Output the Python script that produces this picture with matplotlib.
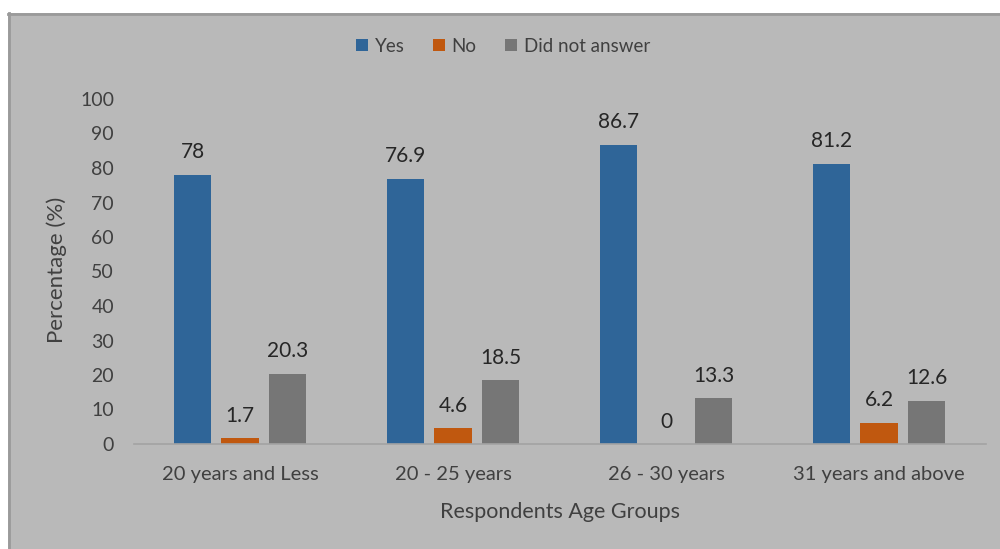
import numpy as np
import matplotlib
matplotlib.use("Agg")
import matplotlib.pyplot as plt
from matplotlib.patches import Rectangle

# survey responses by age group (%)
groups = ["20 years and Less", "20 - 25 years", "26 - 30 years", "31 years and above"]
series = ["Yes", "No", "Did not answer"]
yes_vals = [78, 76.9, 86.7, 81.2]
no_vals = [1.7, 4.6, 0, 6.2]
dna_vals = [20.3, 18.5, 13.3, 12.6]
yticks = [0, 10, 20, 30, 40, 50, 60, 70, 80, 90, 100]

colors = ["#2f6598", "#c0580f", "#767676"]
bg = "#b9b9b9"
txt = "#262626"
tick_col = "#404040"

plt.rcParams["font.family"] = ["Lato", "DejaVu Sans"]

fig = plt.figure(figsize=(10, 5.49), dpi=100)
fig.patch.set_facecolor("white")

# grey chart panel with a darker top/left edge, kept behind the axes
panel = Rectangle((0.008, 0), 0.992, 1 - 13 / 549, transform=fig.transFigure,
                  facecolor=bg, edgecolor="none", zorder=-2)
fig.add_artist(panel)
fig.add_artist(plt.Line2D([0.008, 1], [1 - 14 / 549] * 2, transform=fig.transFigure,
                          color="#9a9a9a", lw=2, zorder=-1))
fig.add_artist(plt.Line2D([0.009, 0.009], [0, 1 - 13 / 549], transform=fig.transFigure,
                          color="#9a9a9a", lw=2, zorder=-1))

ax = fig.add_axes([0.1335, 1 - 444 / 549, 0.852, 345 / 549])
ax.set_facecolor("none")

x = np.arange(len(groups))
width = 0.174
step = 0.223
for i, (name, vals) in enumerate(zip(series, [yes_vals, no_vals, dna_vals])):
    pos = x + (i - 1) * step
    bars = ax.bar(pos, vals, width, color=colors[i], label=name, zorder=2)
    for xp, v in zip(pos, vals):
        ax.annotate(f"{v:g}", (xp, v), xytext=(0, 9), textcoords="offset points",
                    ha="center", va="bottom", fontsize=15, color=txt)

ax.set_xlim(-0.5, len(groups) - 0.5)
ax.set_ylim(0, 100)
ax.set_yticks(yticks)
ax.set_xticks(x)
ax.set_xticklabels(groups, fontsize=14.5, color=tick_col)
ax.tick_params(axis="y", length=0, pad=14, labelsize=14, labelcolor=tick_col)
ax.tick_params(axis="x", length=0, pad=16)
for s in ["top", "right", "left"]:
    ax.spines[s].set_visible(False)
ax.spines["bottom"].set_color("#a3a3a3")
ax.spines["bottom"].set_linewidth(1.2)

# axis titles placed in figure coordinates
fig.text(0.56, 1 - 512 / 549, "Respondents Age Groups", fontsize=15.5, color=tick_col,
         ha="center", va="center")
fig.text(0.057, 1 - 270 / 549, "Percentage (%)", fontsize=16, color=tick_col,
         ha="center", va="center", rotation=90)

fig.legend(loc="center", bbox_to_anchor=(0.503, 1 - 46 / 549), ncol=3, frameon=False,
           fontsize=13.5, handlelength=0.65, handleheight=0.65, handletextpad=0.35,
           columnspacing=1.5, labelcolor=tick_col)

fig.savefig("out.png", dpi=100, facecolor=fig.get_facecolor())
